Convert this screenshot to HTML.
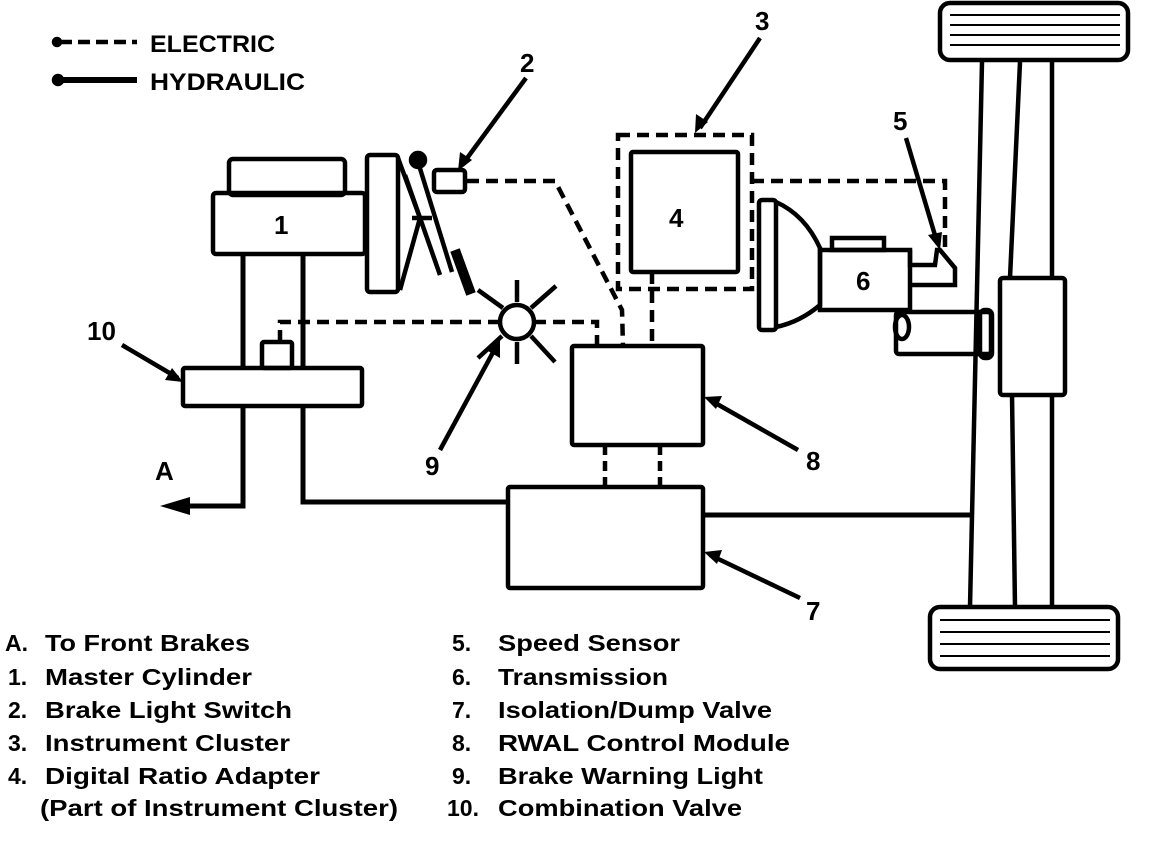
<!DOCTYPE html>
<html><head><style>
body{margin:0;background:#fff}
svg{display:block}
text{font-family:"Liberation Sans",sans-serif;font-weight:bold;fill:#000}
</style></head><body>
<svg width="1152" height="848" viewBox="0 0 1152 848" xmlns="http://www.w3.org/2000/svg">
<g stroke="#000" fill="none" stroke-width="4.5">
<circle cx="57" cy="42" r="3" fill="#000"/>
<line x1="60" y1="42" x2="137" y2="42" stroke-dasharray="12,6"/>
<circle cx="58" cy="80" r="4" fill="#000"/>
<line x1="60" y1="80" x2="137" y2="80" stroke-width="6"/>
<rect x="229" y="159" width="116" height="36" rx="4"/>
<rect x="213" y="193" width="152" height="61" rx="3"/>
<rect x="367" y="155" width="31" height="137" rx="3"/>
<path d="M398 158 L420 218 L400 290"/>
<line x1="412" y1="218" x2="432" y2="218"/>
<line x1="418" y1="162" x2="452" y2="272"/>
<line x1="405" y1="175" x2="440" y2="275"/>
<circle cx="418" cy="160" r="7" fill="#000"/>
<line x1="455" y1="250" x2="471" y2="294" stroke-width="10"/>
<rect x="434" y="170" width="31" height="22" rx="3"/>
<path d="M467 181 L555 181 L622 310 L623 346" stroke-dasharray="12,7"/>
<line x1="243" y1="254" x2="243" y2="368" stroke-width="5"/>
<line x1="303" y1="254" x2="303" y2="368" stroke-width="5"/>
<path d="M243 406 L243 506 L185 506" stroke-width="5"/>
<polygon points="160,506 190,497 190,515" fill="#000" stroke="none"/>
<path d="M303 406 L303 502 L508 502" stroke-width="5"/>
<line x1="703" y1="515" x2="974" y2="515" stroke-width="5"/>
<rect x="183" y="368" width="179" height="38" rx="2"/>
<rect x="262" y="342" width="30" height="26" rx="2"/>
<path d="M280 342 L280 322 L500 322" stroke-dasharray="12,7"/>
<path d="M534 322 L597 322 L597 346" stroke-dasharray="12,7"/>
<circle cx="517" cy="322" r="17"/>
<line x1="517" y1="280" x2="517" y2="302"/><line x1="517" y1="342" x2="517" y2="364"/>
<line x1="478" y1="290" x2="503" y2="308"/><line x1="531" y1="336" x2="555" y2="362"/>
<line x1="556" y1="286" x2="531" y2="308"/><line x1="502" y1="336" x2="478" y2="358"/>
<rect x="618" y="135" width="134" height="154" stroke-dasharray="12,7"/>
<rect x="631" y="152" width="107" height="120" rx="2"/>
<line x1="652" y1="272" x2="652" y2="346" stroke-dasharray="12,7"/>
<path d="M752 181 L945 181 L945 250" stroke-dasharray="12,7"/>
<rect x="572" y="346" width="131" height="99" rx="2"/>
<line x1="605" y1="445" x2="605" y2="487" stroke-dasharray="10,6"/>
<line x1="660" y1="445" x2="660" y2="487" stroke-dasharray="10,6"/>
<rect x="508" y="487" width="195" height="101" rx="2"/>
<rect x="759" y="200" width="17" height="130" rx="3"/>
<path d="M776 202 Q805 215 820 248 L820 305 Q800 322 776 327"/>
<rect x="820" y="250" width="90" height="60"/>
<rect x="832" y="238" width="52" height="12"/>
<path d="M910 250 L910 265 L935 265 L937 250 L940 250 L955 268 L955 285 L912 285"/>
<rect x="896" y="312" width="95" height="42" rx="3"/>
<ellipse cx="902" cy="327" rx="7" ry="12"/>
<rect x="980" y="310" width="12" height="48" rx="5"/>
<rect x="940" y="3" width="188" height="57" rx="10"/>
<g stroke-width="2"><line x1="950" y1="15" x2="1120" y2="15"/><line x1="950" y1="25" x2="1120" y2="25"/><line x1="950" y1="35" x2="1120" y2="35"/><line x1="950" y1="45" x2="1120" y2="45"/></g>
<rect x="930" y="607" width="188" height="62" rx="10"/>
<g stroke-width="2"><line x1="940" y1="620" x2="1110" y2="620"/><line x1="940" y1="632" x2="1110" y2="632"/><line x1="940" y1="644" x2="1110" y2="644"/><line x1="940" y1="656" x2="1110" y2="656"/></g>
<line x1="982" y1="62" x2="970" y2="607"/>
<line x1="1020" y1="62" x2="1010" y2="278"/>
<line x1="1052" y1="62" x2="1052" y2="278"/>
<rect x="1000" y="278" width="65" height="117" rx="3"/>
<line x1="1012" y1="395" x2="1015" y2="607"/>
<line x1="1052" y1="395" x2="1052" y2="607"/>
<line x1="122" y1="345" x2="178" y2="378"/>
<line x1="440" y1="450" x2="497" y2="345"/>
<line x1="526" y1="78" x2="462" y2="165"/>
<line x1="760" y1="38" x2="700" y2="128"/>
<line x1="906" y1="138" x2="937" y2="242"/>
<line x1="798" y1="450" x2="710" y2="400"/>
<line x1="800" y1="598" x2="710" y2="555"/>
</g>
<g fill="#000">
<polygon points="183,382 165,380 172,368"/>
<polygon points="500,338 500,358 488,351"/>
<polygon points="458,171 460,152 472,160"/>
<polygon points="695,133 696,114 708,122"/>
<polygon points="940,250 928,235 942,232"/>
<polygon points="704,397 722,396 716,409"/>
<polygon points="704,552 722,550 717,564"/>
</g>
<text x="150" y="52" font-size="24" textLength="125" lengthAdjust="spacingAndGlyphs">ELECTRIC</text>
<text x="150" y="90" font-size="24" textLength="155" lengthAdjust="spacingAndGlyphs">HYDRAULIC</text>
<text x="274" y="234" font-size="26">1</text>
<text x="669" y="227" font-size="26">4</text>
<text x="856" y="290" font-size="26">6</text>
<text x="520" y="72" font-size="26">2</text>
<text x="755" y="30" font-size="26">3</text>
<text x="893" y="130" font-size="26">5</text>
<text x="87" y="340" font-size="26">10</text>
<text x="425" y="475" font-size="26">9</text>
<text x="806" y="470" font-size="26">8</text>
<text x="806" y="620" font-size="26">7</text>
<text x="155" y="480" font-size="26">A</text>
<g font-size="23">
<text x="5" y="651">A.</text><text x="45" y="651" textLength="205" lengthAdjust="spacingAndGlyphs">To Front Brakes</text>
<text x="8" y="685">1.</text><text x="45" y="685" textLength="207" lengthAdjust="spacingAndGlyphs">Master Cylinder</text>
<text x="8" y="718">2.</text><text x="45" y="718" textLength="247" lengthAdjust="spacingAndGlyphs">Brake Light Switch</text>
<text x="8" y="751">3.</text><text x="45" y="751" textLength="245" lengthAdjust="spacingAndGlyphs">Instrument Cluster</text>
<text x="8" y="784">4.</text><text x="45" y="784" textLength="275" lengthAdjust="spacingAndGlyphs">Digital Ratio Adapter</text>
<text x="40" y="816" textLength="358" lengthAdjust="spacingAndGlyphs">(Part of Instrument Cluster)</text>
<text x="452" y="651">5.</text><text x="498" y="651" textLength="182" lengthAdjust="spacingAndGlyphs">Speed Sensor</text>
<text x="452" y="685">6.</text><text x="498" y="685" textLength="170" lengthAdjust="spacingAndGlyphs">Transmission</text>
<text x="452" y="718">7.</text><text x="498" y="718" textLength="274" lengthAdjust="spacingAndGlyphs">Isolation/Dump Valve</text>
<text x="452" y="751">8.</text><text x="498" y="751" textLength="292" lengthAdjust="spacingAndGlyphs">RWAL Control Module</text>
<text x="452" y="784">9.</text><text x="498" y="784" textLength="265" lengthAdjust="spacingAndGlyphs">Brake Warning Light</text>
<text x="447" y="816">10.</text><text x="498" y="816" textLength="244" lengthAdjust="spacingAndGlyphs">Combination Valve</text>
</g>
</svg>
</body></html>
